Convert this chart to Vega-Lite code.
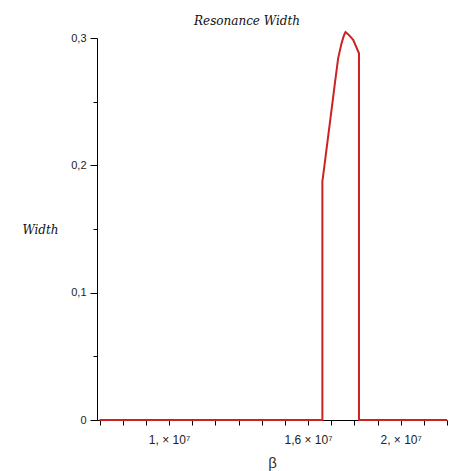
{
  "$schema": "https://vega.github.io/schema/vega-lite/v6.json",
  "width": 350,
  "height": 382,
  "autosize": {"type": "none"},
  "padding": {"left": 97, "top": 38, "right": 21, "bottom": 51},
  "background": "white",
  "title": {"text": "Resonance Width", "font": "DejaVu Serif", "fontStyle": "italic", "fontSize": 12, "fontWeight": "normal", "color": "#111", "anchor": "middle", "dx": -25, "offset": 0},
  "config": {"view": {"stroke": null}},
  "data": {"values": [
    {"i": 0, "beta": 7000000, "width": 0},
    {"i": 1, "beta": 16620000, "width": 0},
    {"i": 2, "beta": 16620000, "width": 0.188},
    {"i": 3, "beta": 16640000, "width": 0.19},
    {"i": 4, "beta": 16800000, "width": 0.213},
    {"i": 5, "beta": 16970000, "width": 0.237},
    {"i": 6, "beta": 17150000, "width": 0.263},
    {"i": 7, "beta": 17300000, "width": 0.284},
    {"i": 8, "beta": 17450000, "width": 0.296},
    {"i": 9, "beta": 17550000, "width": 0.302},
    {"i": 10, "beta": 17620000, "width": 0.3046},
    {"i": 11, "beta": 17730000, "width": 0.303},
    {"i": 12, "beta": 17950000, "width": 0.2985},
    {"i": 13, "beta": 18200000, "width": 0.288},
    {"i": 14, "beta": 18200000, "width": 0},
    {"i": 15, "beta": 22000000, "width": 0}
  ]},
  "mark": {"type": "line", "color": "#cc2222", "strokeWidth": 2, "clip": false},
  "encoding": {
    "x": {
      "field": "beta", "type": "quantitative",
      "scale": {"domain": [6890000, 22000000], "nice": false, "zero": false},
      "axis": {
        "values": [7000000, 8000000, 9000000, 10000000, 11000000, 12000000, 13000000, 14000000, 15000000, 16000000, 17000000, 18000000, 19000000, 20000000, 21000000, 22000000],
        "grid": false,
        "domainColor": "#000", "tickColor": "#000", "tickSize": 5,
        "labelExpr": "datum.value == 10000000 ? '1, × 10⁷' : datum.value == 16000000 ? '1,6 × 10⁷' : datum.value == 20000000 ? '2, × 10⁷' : ''",
        "labelOverlap": false, "labelFlush": false,
        "labelFont": "Liberation Sans", "labelFontSize": 12, "labelColor": "#222", "labelPadding": 9,
        "title": "β", "titleFont": "Liberation Sans", "titleFontSize": 15, "titleFontWeight": "normal", "titleColor": "#333",
        "titleX": 175, "titleY": 42, "titleBaseline": "middle", "titleAlign": "center"
      }
    },
    "y": {
      "field": "width", "type": "quantitative",
      "scale": {"domain": [0, 0.3], "nice": false},
      "axis": {
        "values": [0, 0.05, 0.1, 0.15, 0.2, 0.25, 0.3],
        "grid": false,
        "domainColor": "#000", "tickColor": "#000",
        "tickSize": {"condition": {"test": "abs(datum.value*10 - round(datum.value*10)) < 0.001", "value": 7}, "value": 4},
        "labelExpr": "abs(datum.value*10 - round(datum.value*10)) < 0.001 ? replace(format(datum.value, '.1~f'), '.', ',') : ''",
        "labelFont": "Liberation Sans", "labelFontSize": 11, "labelColor": "#222", "labelPadding": 4, "labelFlush": false,
        "title": "Width", "titleAngle": 0, "titleFont": "DejaVu Serif", "titleFontStyle": "italic", "titleFontSize": 12, "titleFontWeight": "normal", "titleColor": "#111",
        "titleX": -57, "titleY": 191, "titleAlign": "center", "titleBaseline": "middle"
      }
    },
    "order": {"field": "i"}
  }
}
